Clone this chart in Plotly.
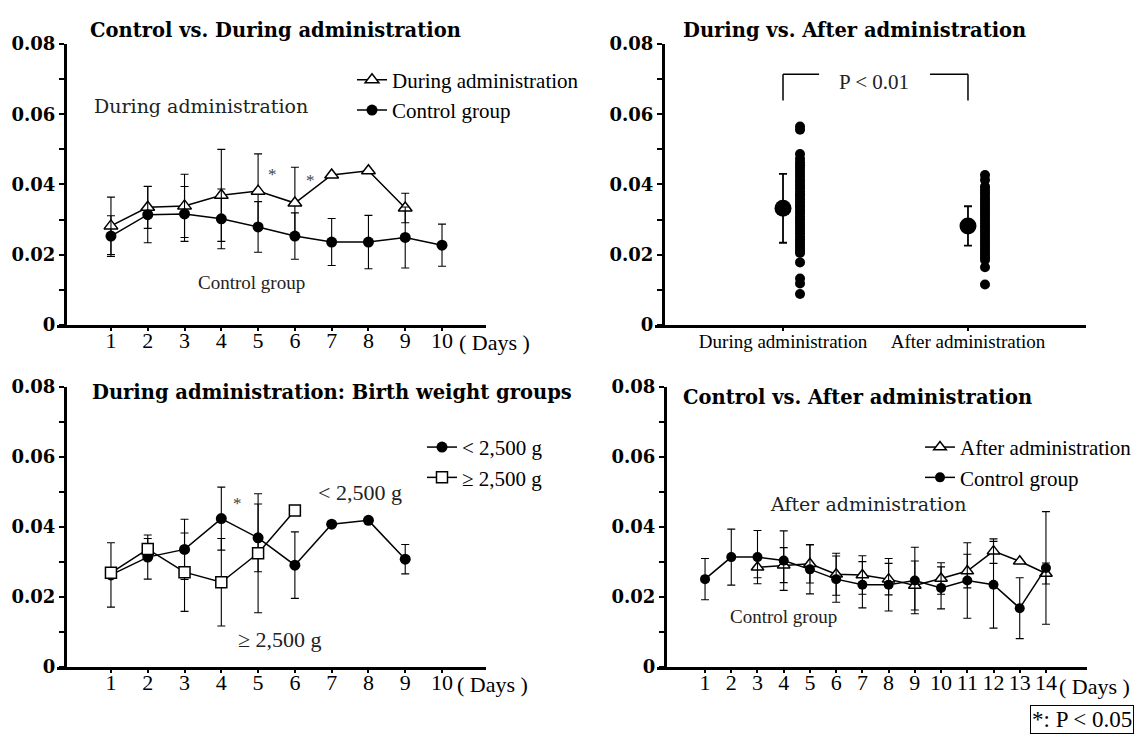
import plotly.graph_objects as go

# ---------------- data ----------------
DAYS_10 = [1, 2, 3, 4, 5, 6, 7, 8, 9, 10]
DAYS_9 = [1, 2, 3, 4, 5, 6, 7, 8, 9]
DAYS_6 = [1, 2, 3, 4, 5, 6]
DAYS_14 = [1, 2, 3, 4, 5, 6, 7, 8, 9, 10, 11, 12, 13, 14]
DAYS_3_14 = [3, 4, 5, 6, 7, 8, 9, 10, 11, 12, 13, 14]

# Panel 1: Control vs. During administration
during_mean = [0.0282, 0.0335, 0.0339, 0.0369, 0.0381, 0.0347, 0.0427, 0.0439, 0.0333]
during_sd = [0.0082, 0.0060, 0.0090, 0.0131, 0.0106, 0.0102, None, None, 0.0042]
control_mean = [0.0253, 0.0314, 0.0316, 0.0302, 0.0279, 0.0253, 0.0236, 0.0236, 0.0249, 0.0227]
control_sd = [0.0058, 0.0080, 0.0078, 0.0085, 0.0072, 0.0066, 0.0067, 0.0076, 0.0087, 0.0060]

# Panel 2: During vs. After administration (individual values + mean/SD)
group_names = ["During administration", "After administration"]
group_mean = [0.0332, 0.0282]
group_sd = [0.0098, 0.0056]
during_points = [0.0565, 0.0556, 0.0487, 0.0473, 0.0463, 0.0455, 0.0447, 0.0438, 0.0430,
                 0.0421, 0.0412, 0.0404, 0.0396, 0.0389, 0.0380, 0.0372, 0.0365, 0.0357,
                 0.0349, 0.0341, 0.0334, 0.0326, 0.0318, 0.0309, 0.0301, 0.0293, 0.0285,
                 0.0277, 0.0269, 0.0261, 0.0252, 0.0244, 0.0236, 0.0228, 0.0220, 0.0212,
                 0.0205, 0.0178, 0.0132, 0.0118, 0.0088]
after_points = [0.0427, 0.0413, 0.0394, 0.0386, 0.0378, 0.0370, 0.0361, 0.0353, 0.0345,
                0.0337, 0.0329, 0.0321, 0.0313, 0.0305, 0.0297, 0.0289, 0.0281, 0.0273,
                0.0265, 0.0257, 0.0249, 0.0241, 0.0233, 0.0225, 0.0217, 0.0209, 0.0201,
                0.0193, 0.0185, 0.0164, 0.0115]

# Panel 3: Birth weight groups (during administration)
low_mean = [0.0263, 0.0314, 0.0336, 0.0424, 0.0369, 0.0291, 0.0408, 0.0419, 0.0308]
low_sd = [0.0092, 0.0063, 0.0086, 0.0090, 0.0097, 0.0095, None, None, 0.0042]
high_mean = [0.0269, 0.0337, 0.0271, 0.0242, 0.0325, 0.0447]
high_sd = [None, 0.0030, 0.0112, 0.0125, 0.0170, None]

# Panel 4: Control vs. After administration
ctrl4_mean = [0.0251, 0.0314, 0.0314, 0.0304, 0.0279, 0.0251, 0.0235, 0.0235, 0.0247,
              0.0226, 0.0247, 0.0235, 0.0168, 0.0283]
ctrl4_sd = [0.0059, 0.0080, 0.0076, 0.0085, 0.0070, 0.0066, 0.0066, 0.0075, 0.0095,
            0.0060, 0.0108, 0.0124, 0.0087, 0.0161]
after_mean = [0.0285, 0.0291, 0.0295, 0.0265, 0.0263, 0.0251, 0.0233, 0.0253, 0.0274,
              0.0331, 0.0302, 0.0267]
after_sd = [0.0030, 0.0050, 0.0055, 0.0060, 0.0055, 0.0045, 0.0070, 0.0045, 0.0048,
            0.0035, None, 0.0030]

Y_TICKS = [0, 0.01, 0.02, 0.03, 0.04, 0.05, 0.06, 0.07, 0.08]
Y_TICKTEXT = ["0", "", "0.02", "", "0.04", "", "0.06", "", "0.08"]

# ---------------- styles ----------------
W, H = 1138, 744
SERIF = "Liberation Serif"
WIDE = "DejaVu Serif"
BLACK = "black"
LINE_W = 1.5
ERR = dict(type="data", color=BLACK, thickness=1.1, width=4, visible=True)


def px(x):
    return x / W


def py(y):
    return 1 - y / H


def err(sd):
    e = dict(ERR)
    e["array"] = sd
    return e


fig = go.Figure()

# Panel 1
fig.add_trace(go.Scatter(
    x=DAYS_9, y=during_mean, name="During administration", mode="lines+markers",
    line=dict(color=BLACK, width=LINE_W),
    marker=dict(symbol="triangle-up", size=12, color="white", line=dict(color=BLACK, width=1.5)),
    error_y=err(during_sd), xaxis="x", yaxis="y", legend="legend"))
fig.add_trace(go.Scatter(
    x=DAYS_10, y=control_mean, name="Control group", mode="lines+markers",
    line=dict(color=BLACK, width=LINE_W),
    marker=dict(symbol="circle", size=11, color=BLACK),
    error_y=err(control_sd), xaxis="x", yaxis="y", legend="legend"))

# Panel 2
DOT_OFFSET = 0.092
fig.add_trace(go.Scatter(
    x=[1, 2], y=group_mean, mode="markers", showlegend=False,
    marker=dict(symbol="circle", size=17, color=BLACK),
    error_y=dict(type="data", array=group_sd, color=BLACK, thickness=1.8, width=4),
    xaxis="x2", yaxis="y2"))
fig.add_trace(go.Scatter(
    x=[1 + DOT_OFFSET] * len(during_points), y=during_points, mode="markers",
    showlegend=False, marker=dict(symbol="circle", size=10, color=BLACK),
    xaxis="x2", yaxis="y2"))
fig.add_trace(go.Scatter(
    x=[2 + DOT_OFFSET] * len(after_points), y=after_points, mode="markers",
    showlegend=False, marker=dict(symbol="circle", size=10, color=BLACK),
    xaxis="x2", yaxis="y2"))

# Panel 3
fig.add_trace(go.Scatter(
    x=DAYS_9, y=low_mean, name="< 2,500 g", mode="lines+markers",
    line=dict(color=BLACK, width=LINE_W),
    marker=dict(symbol="circle", size=11, color=BLACK),
    error_y=err(low_sd), xaxis="x3", yaxis="y3", legend="legend2"))
fig.add_trace(go.Scatter(
    x=DAYS_6, y=high_mean, name="≥ 2,500 g", mode="lines+markers",
    line=dict(color=BLACK, width=LINE_W),
    marker=dict(symbol="square", size=11, color="white", line=dict(color=BLACK, width=1.5)),
    error_y=err(high_sd), xaxis="x3", yaxis="y3", legend="legend2"))

# Panel 4
fig.add_trace(go.Scatter(
    x=DAYS_3_14, y=after_mean, name="After administration", mode="lines+markers",
    line=dict(color=BLACK, width=LINE_W),
    marker=dict(symbol="triangle-up", size=11, color="white", line=dict(color=BLACK, width=1.5)),
    error_y=err(after_sd), xaxis="x4", yaxis="y4", legend="legend3"))
fig.add_trace(go.Scatter(
    x=DAYS_14, y=ctrl4_mean, name="Control group", mode="lines+markers",
    line=dict(color=BLACK, width=LINE_W),
    marker=dict(symbol="circle", size=10, color=BLACK),
    error_y=err(ctrl4_sd), xaxis="x4", yaxis="y4", legend="legend3"))


def yaxis(dom, pos):
    return dict(domain=dom, range=[0, 0.08], anchor="free", position=pos,
                tickvals=Y_TICKS, ticktext=Y_TICKTEXT, ticks="outside", ticklen=5,
                tickwidth=1.5, tickcolor=BLACK, showline=True, linewidth=3, linecolor=BLACK,
                showgrid=False, zeroline=False,
                tickfont=dict(family=WIDE, size=18, color=BLACK, weight="bold"))


def xaxis(dom, rng, vals, anchor, size=22, text=None, standoff=-9):
    return dict(domain=dom, range=rng, anchor=anchor, tickvals=vals,
                ticktext=text if text else [str(v) for v in vals],
                ticks="outside", ticklen=3, tickwidth=2, tickcolor=BLACK,
                showline=True, linewidth=3, linecolor=BLACK, showgrid=False, zeroline=False,
                ticklabelstandoff=standoff,
                tickfont=dict(family=SERIF, size=size, color=BLACK))


TOP = [py(323), py(34)]
BOT = [py(675), py(387)]
LEFT_X = [px(57), px(486)]
LEG_FONT = dict(family=SERIF, size=21, color=BLACK)

fig.update_layout(
    width=W, height=H, margin=dict(l=0, r=0, t=0, b=0),
    paper_bgcolor="white", plot_bgcolor="white",
    xaxis=xaxis(LEFT_X, [-0.467, 11.196], DAYS_10, "y"),
    yaxis=yaxis(TOP, px(65)),
    xaxis2=xaxis([px(655), px(1086)], [0.308, 2.638], [1, 2], "y2", size=19, text=group_names,
                 standoff=-6),
    yaxis2=yaxis(TOP, px(663)),
    xaxis3=xaxis(LEFT_X, [-0.467, 11.196], DAYS_10, "y3"),
    yaxis3=yaxis(BOT, px(65)),
    xaxis4=xaxis([px(657), px(1087)], [-0.832, 15.565], DAYS_14, "y4"),
    yaxis4=yaxis(BOT, px(665)),
    legend=dict(x=px(352), y=py(50), xanchor="left", yanchor="top", bgcolor="rgba(0,0,0,0)",
                font=LEG_FONT, itemwidth=30),
    legend2=dict(x=px(422), y=py(428), xanchor="left", yanchor="top", bgcolor="rgba(0,0,0,0)",
                 font=LEG_FONT, itemwidth=30),
    legend3=dict(x=px(920), y=py(428), xanchor="left", yanchor="top", bgcolor="rgba(0,0,0,0)",
                 font=LEG_FONT, itemwidth=30),
)

ann = []
# Titles
TITLE_FONT = dict(family=WIDE, size=19.5, color=BLACK, weight="bold")
for text, x0, y0 in [("Control vs. During administration", 88, 20),
                     ("During vs. After administration", 681, 20),
                     ("During administration: Birth weight groups", 90, 393),
                     ("Control vs. After administration", 681, 398)]:
    ann.append(dict(text=text, x=px(x0), y=py(y0), xref="paper", yref="paper",
                    xanchor="left", yanchor="middle", showarrow=False, font=TITLE_FONT))

# ( Days ) labels
for xr, xv, y0 in [("x", 10.42, 341), ("x3", 10.35, 693), ("x4", 14.42, 695)]:
    ann.append(dict(text="( Days )", x=xv, y=py(y0), xref=xr, yref="paper",
                    xanchor="left", yanchor="middle", showarrow=False,
                    font=dict(family=SERIF, size=22, color=BLACK)))

# Panel 1 labels
ann += [
    dict(text="During administration", x=3.45, y=0.0623, xref="x", yref="y", showarrow=False,
         font=dict(family=WIDE, size=19, color="#222")),
    dict(text="Control group", x=4.83, y=0.0122, xref="x", yref="y", showarrow=False,
         font=dict(family=SERIF, size=19, color="#222")),
    dict(text="*", x=5.38, y=0.0429, xref="x", yref="y", showarrow=False,
         font=dict(family=SERIF, size=17, color="#444")),
    dict(text="*", x=6.43, y=0.0412, xref="x", yref="y", showarrow=False,
         font=dict(family=SERIF, size=17, color="#444")),
]
# Panel 2 labels
ann.append(dict(text="P < 0.01", x=1.49, y=0.0692, xref="x2", yref="y2", showarrow=False,
                font=dict(family=SERIF, size=21, color="#222")))
# Panel 3 labels
ann += [
    dict(text="< 2,500 g", x=7.77, y=0.050, xref="x3", yref="y3", showarrow=False,
         font=dict(family=SERIF, size=22, color="#222")),
    dict(text="≥ 2,500 g", x=5.6, y=0.0078, xref="x3", yref="y3", showarrow=False,
         font=dict(family=SERIF, size=22, color="#222")),
    dict(text="*", x=4.45, y=0.0467, xref="x3", yref="y3", showarrow=False,
         font=dict(family=SERIF, size=17, color="#444")),
]
# Panel 4 labels
ann += [
    dict(text="After administration", x=7.22, y=0.0467, xref="x4", yref="y4", showarrow=False,
         font=dict(family=WIDE, size=19, color="#222")),
    dict(text="Control group", x=3.98, y=0.0144, xref="x4", yref="y4", showarrow=False,
         font=dict(family=SERIF, size=19, color="#222")),
]
# significance key box
ann.append(dict(text="*: P < 0.05", x=px(1134), y=py(729), xref="paper", yref="paper",
                xanchor="right", yanchor="middle", showarrow=False, bordercolor=BLACK,
                borderwidth=1, borderpad=1, font=dict(family=SERIF, size=23, color=BLACK)))
fig.update_layout(annotations=ann)

# P-value bracket for panel 2
BR_TOP, BR_BOT = 0.0714, 0.0639
BR_L_END, BR_R_START = 1.195, 1.795
shapes = []
for x0, y0, x1, y1 in [(1, BR_BOT, 1, BR_TOP), (1, BR_TOP, BR_L_END, BR_TOP),
                       (BR_R_START, BR_TOP, 2, BR_TOP), (2, BR_TOP, 2, BR_BOT)]:
    shapes.append(dict(type="line", xref="x2", yref="y2", x0=x0, y0=y0, x1=x1, y1=y1,
                       line=dict(color=BLACK, width=1.5)))
fig.update_layout(shapes=shapes)

fig.write_html("out.html")
